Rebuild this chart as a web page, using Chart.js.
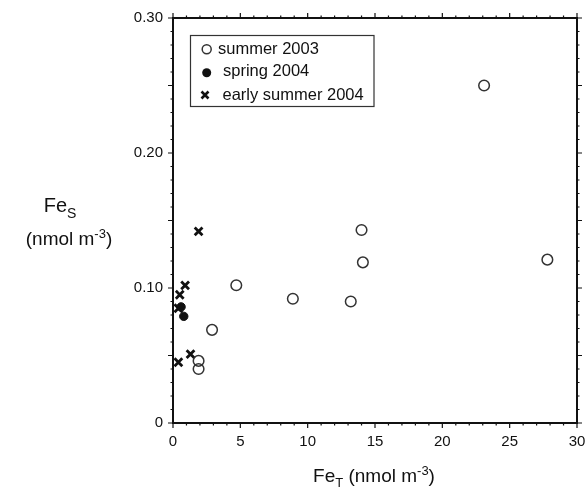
<!DOCTYPE html>
<html>
<head>
<meta charset="utf-8">
<script src="https://cdn.jsdelivr.net/npm/chart.js@4"></script>
<style>
  body { margin: 0; background: #fff; }
  canvas { display: block; }
</style>
</head>
<body>
<canvas id="myChart" width="586" height="489"></canvas>
<script>
// values
const summer2003X = [23.1, 14.0, 14.1, 13.2, 27.8, 4.7, 8.9, 2.9, 1.9, 1.9];
const summer2003Y = [0.250, 0.143, 0.119, 0.090, 0.121, 0.102, 0.092, 0.069, 0.046, 0.040];

const spring2004X = [0.6, 0.8];
const spring2004Y = [0.086, 0.079];

const earlySummer2004X = [1.9, 0.9, 0.5, 0.4, 1.3, 0.4];
const earlySummer2004Y = [0.142, 0.102, 0.095, 0.085, 0.051, 0.045];

const seriesNames = ['summer 2003', 'spring 2004', 'early summer 2004'];

const FONT = '"Liberation Sans", Arial, Helvetica, sans-serif';
const INK = '#111';

function toPoints(xs, ys) {
    let pts = [];
    for (let i = 0; i < xs.length; i++) {
        pts.push({ x: xs[i], y: ys[i] });
    }
    return pts;
}

// text with sub / superscripts, centred on cx
function drawRich(ctx, parts, cx, baseY) {
    let total = 0;
    for (let p of parts) {
        ctx.font = p.size + 'px ' + FONT;
        p.w = ctx.measureText(p.t).width;
        total += p.w;
    }
    let x = cx - total / 2;
    ctx.textAlign = 'left';
    ctx.textBaseline = 'alphabetic';
    for (let p of parts) {
        ctx.font = p.size + 'px ' + FONT;
        ctx.fillText(p.t, x, baseY + (p.dy || 0));
        x += p.w;
    }
}

const framePlugin = {
    id: 'frame',
    afterDraw(chart) {
        const ctx = chart.ctx;
        const a = chart.chartArea;
        const xs = chart.scales.x;
        const ys = chart.scales.y;
        ctx.save();
        ctx.strokeStyle = INK;
        ctx.fillStyle = INK;

        // ticks on all four sides, pointing outward
        ctx.lineWidth = 1.2;
        ctx.beginPath();
        for (let i = 0; i <= 30; i++) {
            const len = i % 5 === 0 ? 5 : 2.5;
            const px = xs.getPixelForValue(i);
            ctx.moveTo(px, a.bottom); ctx.lineTo(px, a.bottom + len);
            ctx.moveTo(px, a.top); ctx.lineTo(px, a.top - len);
            const py = ys.getPixelForValue(i / 100);
            ctx.moveTo(a.left, py); ctx.lineTo(a.left - len, py);
            ctx.moveTo(a.right, py); ctx.lineTo(a.right + len, py);
        }
        ctx.stroke();

        ctx.lineWidth = 2;
        ctx.strokeRect(a.left, a.top, a.right - a.left, a.bottom - a.top);

        // axis titles
        drawRich(ctx, [
            { t: 'Fe', size: 19 },
            { t: 'T', size: 13, dy: 5 },
            { t: ' (nmol m', size: 19 },
            { t: '-3', size: 13, dy: -7 },
            { t: ')', size: 19 }
        ], 374, 482);
        drawRich(ctx, [
            { t: 'Fe', size: 20 },
            { t: 'S', size: 14, dy: 6 }
        ], 60, 212);
        drawRich(ctx, [
            { t: '(nmol m', size: 19 },
            { t: '-3', size: 13, dy: -7 },
            { t: ')', size: 19 }
        ], 69, 245);

        // legend box
        ctx.fillStyle = '#fff';
        ctx.fillRect(190.5, 35.5, 183.5, 71);
        ctx.lineWidth = 1.2;
        ctx.strokeStyle = '#333';
        ctx.strokeRect(190.5, 35.5, 183.5, 71);

        ctx.fillStyle = INK;
        ctx.font = '16.5px ' + FONT;
        ctx.textAlign = 'left';
        ctx.textBaseline = 'alphabetic';
        ctx.fillText(seriesNames[0], 218, 54);
        ctx.fillText(seriesNames[1], 223, 76);
        ctx.fillText(seriesNames[2], 222.5, 99.5);

        ctx.strokeStyle = '#333';
        ctx.lineWidth = 1.5;
        ctx.beginPath();
        ctx.arc(206.7, 49.3, 4.5, 0, Math.PI * 2);
        ctx.stroke();

        ctx.fillStyle = INK;
        ctx.beginPath();
        ctx.arc(206.7, 72.7, 4.5, 0, Math.PI * 2);
        ctx.fill();

        ctx.strokeStyle = INK;
        ctx.lineWidth = 2.6;
        ctx.beginPath();
        ctx.moveTo(201.5, 91.5); ctx.lineTo(208.5, 98.5);
        ctx.moveTo(208.5, 91.5); ctx.lineTo(201.5, 98.5);
        ctx.stroke();

        ctx.restore();
    }
};

const data = {
    datasets: [{
        label: seriesNames[0],
        data: toPoints(summer2003X, summer2003Y),
        pointStyle: 'circle',
        pointRadius: 5.3,
        borderWidth: 1.5,
        borderColor: '#333',
        backgroundColor: 'rgba(0,0,0,0)'
    }, {
        label: seriesNames[1],
        data: toPoints(spring2004X, spring2004Y),
        pointStyle: 'circle',
        pointRadius: 4.2,
        borderWidth: 1,
        borderColor: INK,
        backgroundColor: INK
    }, {
        label: seriesNames[2],
        data: toPoints(earlySummer2004X, earlySummer2004Y),
        pointStyle: 'crossRot',
        pointRadius: 5.5,
        borderWidth: 2.8,
        borderColor: INK,
        backgroundColor: INK
    }]
};

const config = {
    type: 'scatter',
    data: data,
    options: {
        responsive: false,
        animation: false,
        devicePixelRatio: 1,
        layout: { padding: { left: 0, top: 18, right: 9, bottom: 0 } },
        plugins: {
            legend: { display: false },
            tooltip: { enabled: false }
        },
        scales: {
            x: {
                type: 'linear',
                min: 0,
                max: 30,
                afterFit: s => { s.height = 66; s.paddingLeft = 0; s.paddingRight = 0; },
                grid: { display: false, drawTicks: false },
                border: { display: false },
                ticks: {
                    stepSize: 5,
                    padding: 10,
                    color: INK,
                    font: { family: FONT, size: 15 }
                }
            },
            y: {
                type: 'linear',
                min: 0,
                max: 0.3,
                afterFit: s => { s.width = 173; s.paddingTop = 0; s.paddingBottom = 0; },
                grid: { display: false, drawTicks: false },
                border: { display: false },
                ticks: {
                    stepSize: 0.1,
                    padding: 10,
                    color: INK,
                    font: { family: FONT, size: 15 },
                    callback: v => v === 0 ? '0' : v.toFixed(2)
                }
            }
        }
    },
    plugins: [framePlugin]
};

const myChart = new Chart(document.getElementById('myChart'), config);
</script>
</body>
</html>
